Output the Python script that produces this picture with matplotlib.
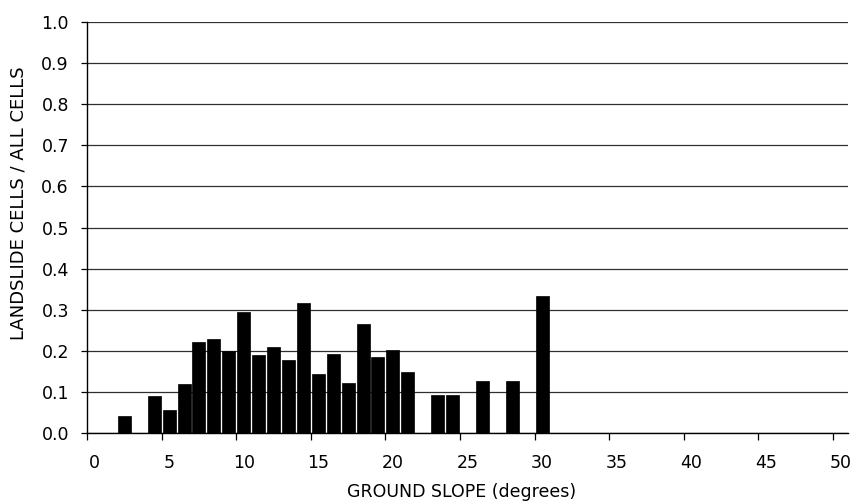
import matplotlib
matplotlib.use("Agg")
import matplotlib.pyplot as plt
import numpy as np

# slope category (degrees) and landslide ratio
slope_deg = [2, 4, 5, 6, 7, 8, 9, 10, 11, 12, 13, 14, 15, 16, 17, 18, 19, 20, 21,
             23, 24, 26, 28, 30]
ratio = [0.042, 0.089, 0.056, 0.118, 0.221, 0.228, 0.199, 0.294, 0.189, 0.209,
         0.178, 0.317, 0.144, 0.192, 0.122, 0.264, 0.184, 0.201, 0.148,
         0.092, 0.092, 0.126, 0.126, 0.334]
x_labels = [0, 5, 10, 15, 20, 25, 30, 35, 40, 45, 50]
y_ticks = [0.0, 0.1, 0.2, 0.3, 0.4, 0.5, 0.6, 0.7, 0.8, 0.9, 1.0]

plt.rcParams["font.family"] = ["DejaVu Sans"]

fig = plt.figure(figsize=(8.6, 5.04), dpi=100)
ax = fig.add_axes([0.1012, 0.1409, 0.8848, 0.8154])

ax.bar(slope_deg, ratio, width=0.87, color="black", edgecolor="black",
       linewidth=0.5, zorder=3)

ax.set_xlim(-0.5, 50.5)
ax.set_ylim(0, 1.0)

# category axis: ticks between categories, labels centred on them
ax.set_xticks([v - 0.5 for v in x_labels])
ax.set_xticklabels([])
ax.set_xticks(x_labels, minor=True)
ax.set_xticklabels([str(v) for v in x_labels], minor=True, fontsize=12.5)
ax.tick_params(axis="x", which="major", direction="out", length=5, width=0.9)
ax.tick_params(axis="x", which="minor", length=0, pad=15)

ax.set_yticks(y_ticks)
ax.set_yticklabels(["%.1f" % v for v in y_ticks], fontsize=12.5)
ax.tick_params(axis="y", direction="out", length=4, width=0.9, pad=9)

ax.grid(axis="y", color="#303030", linewidth=0.9, zorder=0)
for side in ["top", "right"]:
    ax.spines[side].set_visible(False)
for side in ["left", "bottom"]:
    ax.spines[side].set_linewidth(1.0)
    ax.spines[side].set_zorder(4)

ax.set_xlabel("GROUND SLOPE (degrees)", fontsize=12.5, va="center")
ax.xaxis.set_label_coords(0.492, -0.1436)
ax.set_ylabel("LANDSLIDE CELLS / ALL CELLS", fontsize=13, va="center")
ax.yaxis.set_label_coords(-0.0907, 0.558)

fig.savefig("out.png", dpi=100)
